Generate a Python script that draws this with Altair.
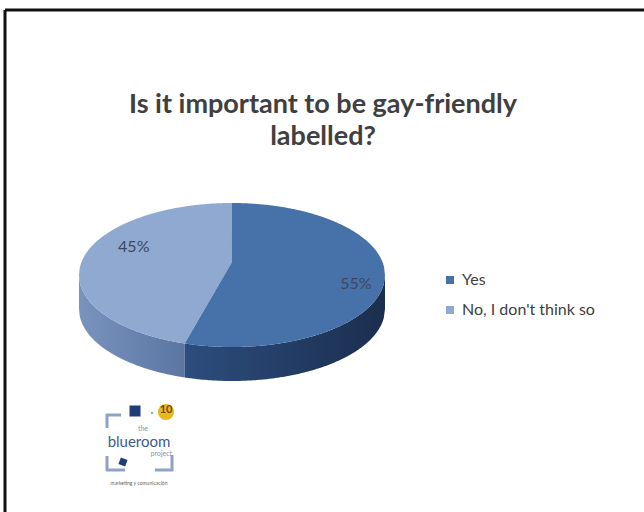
import altair as alt
import numpy as np
import pandas as pd

# ---------------- data ----------------
categories = ["Yes", "No, I don't think so"]
values = [55, 45]
pct_labels = ["55%", "45%"]
title_lines = ["Is it important to be gay-friendly", "labelled?"]

# ---------------- style / layout ----------------
W, H = 644, 512
CX, CY = 232.0, 275.0      # ellipse centre (pixels)
RX, RY = 153.0, 72.0       # ellipse radii
APEX = 13.0                # pie apex sits above ellipse centre (perspective)
DEPTH = 34.0               # thickness of the 3D side
top_colors = ["#4672a9", "#8fa9d1"]
label_r = [0.82, 0.65]
label_dy = [0.0, -21.0]
FONT = "Lato"

# ---------------- geometry from values ----------------
frac = values[0] / sum(values)
theta = 2 * np.pi * frac                  # clockwise from 12 o'clock
xP = RX * np.sin(theta)                   # boundary point on rim (relative x)
yP = CY - RY * np.cos(theta)              # absolute pixel y
ay = CY - APEX                            # apex y


def top_y(x):
    return CY - RY * np.sqrt(np.clip(1 - (x / RX) ** 2, 0, None))


def bot_y(x):
    return CY + RY * np.sqrt(np.clip(1 - (x / RX) ** 2, 0, None))


def line_y(x):
    return ay + (yP - ay) * (x / xP)


rows = []
n = 160
# sides
for part, xs in [("side_no", np.linspace(-RX, xP, n)), ("side_yes", np.linspace(xP, RX, n))]:
    for x in xs:
        rows.append(dict(part=part, category=None, x=CX + x, y=bot_y(x), y2=bot_y(x) + DEPTH))
# top "No" face
for x in np.linspace(-RX, xP, n):
    rows.append(dict(part="top", category=categories[1], x=CX + x, y=top_y(x), y2=bot_y(x)))
for x in np.linspace(xP, 0, 60)[1:]:
    rows.append(dict(part="top", category=categories[1], x=CX + x, y=top_y(x), y2=line_y(x)))
# top "Yes" face
for x in np.linspace(xP, -1e-3, 60):
    rows.append(dict(part="top", category=categories[0], x=CX + x, y=line_y(x), y2=bot_y(x)))
for x in np.linspace(0, RX, n):
    rows.append(dict(part="top", category=categories[0], x=CX + x, y=top_y(x), y2=bot_y(x)))
geo = pd.DataFrame(rows)

# percentage label positions (mid-angle of each slice)
starts = np.cumsum([0] + values[:-1]) / sum(values)
mids = (starts + np.array(values) / sum(values) / 2) * 2 * np.pi
lab = pd.DataFrame(dict(
    text=pct_labels,
    x=[CX + r * RX * np.sin(m) for r, m in zip(label_r, mids)],
    y=[CY - r * RY * np.cos(m) + d for r, m, d in zip(label_r, mids, label_dy)],
))
one = pd.DataFrame({"k": [0]})

xs_ = alt.Scale(domain=[0, W], range=[0, W], nice=False, zero=False)
ys_ = alt.Scale(domain=[0, H], range=[0, H], nice=False, zero=False)


def grad(c1, c2):
    return alt.Gradient(gradient="linear", x1=0, x2=1, y1=0, y2=0,
                        stops=[alt.GradientStop(color=c1, offset=0),
                               alt.GradientStop(color=c2, offset=1)])


base = alt.Chart(geo)
side_no = base.transform_filter(alt.datum.part == "side_no").mark_area(
    orient="vertical", color=grad("#7993bd", "#5b76a3")).encode(
    x=alt.X("x:Q", scale=xs_, axis=None), y=alt.Y("y:Q", scale=ys_, axis=None), y2="y2:Q")
side_yes = base.transform_filter(alt.datum.part == "side_yes").mark_area(
    orient="vertical", color=grad("#2d4d7e", "#1b2e4e")).encode(
    x=alt.X("x:Q", scale=xs_, axis=None), y=alt.Y("y:Q", scale=ys_, axis=None), y2="y2:Q")
top = base.transform_filter(alt.datum.part == "top").mark_area(orient="vertical").encode(
    x=alt.X("x:Q", scale=xs_, axis=None),
    y=alt.Y("y:Q", scale=ys_, axis=None), y2="y2:Q",
    color=alt.Color("category:N", scale=alt.Scale(domain=categories, range=top_colors),
                    legend=alt.Legend(title=None, orient="none", legendX=442, legendY=272,
                                      symbolType="square", symbolSize=64, symbolStrokeWidth=0,
                                      labelFont=FONT, labelFontSize=16, labelColor="#404040",
                                      rowPadding=14, labelOffset=4)),
    detail="category:N",
)

pct = alt.Chart(lab).mark_text(font=FONT, fontSize=16, color="#3d4860",
                               align="center", baseline="middle").encode(
    x=alt.X("x:Q", scale=xs_, axis=None), y=alt.Y("y:Q", scale=ys_, axis=None), text="text:N")

title = alt.Chart(one).mark_text(text=title_lines, font=FONT, fontSize=27, fontWeight="bold",
                                 color="#404040", align="center", baseline="alphabetic",
                                 lineHeight=32).encode(x=alt.value(323), y=alt.value(113))


def rule(x1, y1, x2, y2, color, w):
    return alt.Chart(one).mark_rule(color=color, strokeWidth=w).encode(
        x=alt.value(x1), y=alt.value(y1), x2=alt.value(x2), y2=alt.value(y2))


border = [rule(5, 10, W, 10, "#111111", 3), rule(5, 10, 5, H, "#111111", 3)]

LOGO_LIGHT = "#8ea2c2"
LOGO_DARK = "#1f3d78"
logo = [
    rule(107, 414, 107, 428, LOGO_LIGHT, 3), rule(106, 415, 121, 415, LOGO_LIGHT, 3),
    rule(107, 456, 107, 471, LOGO_LIGHT, 3), rule(106, 470, 125, 470, LOGO_LIGHT, 3),
    rule(172, 455, 172, 471, LOGO_LIGHT, 3), rule(155, 470, 173, 470, LOGO_LIGHT, 3),
    alt.Chart(one).mark_square(color=LOGO_DARK, size=121, opacity=1).encode(
        x=alt.value(135), y=alt.value(411)),
    alt.Chart(one).mark_square(color=LOGO_DARK, size=50, opacity=1, angle=20).encode(
        x=alt.value(123), y=alt.value(462)),
    alt.Chart(one).mark_circle(color="#9aa9c4", size=6, opacity=1).encode(
        x=alt.value(152), y=alt.value(413)),
    alt.Chart(one).mark_circle(color="#e9b81f", size=260, opacity=1).encode(
        x=alt.value(166), y=alt.value(412)),
    alt.Chart(one).mark_text(text="10", font=FONT, fontSize=11, fontWeight="bold",
                             color="#6b4a10", baseline="middle").encode(
        x=alt.value(166), y=alt.value(410)),
    alt.Chart(one).mark_text(text="the", font=FONT, fontSize=7, color="#7f93b5",
                             baseline="middle").encode(x=alt.value(143), y=alt.value(429)),
    alt.Chart(one).mark_text(text="blueroom", font=FONT, fontSize=15, color="#3a5b93",
                             baseline="middle").encode(x=alt.value(139), y=alt.value(442)),
    alt.Chart(one).mark_text(text="project", font=FONT, fontSize=7, color="#7f93b5",
                             align="right", baseline="middle").encode(x=alt.value(172), y=alt.value(454)),
    alt.Chart(one).mark_text(text="marketing y comunicación", font=FONT, fontSize=5, color="#666666",
                             baseline="middle").encode(x=alt.value(139), y=alt.value(483)),
]

chart = alt.layer(side_no, side_yes, top, pct, title, *border, *logo).properties(
    width=W, height=H, padding=0, autosize=alt.AutoSizeParams(type="none"),
    background="white",
).configure_view(stroke=None)

chart.save("out.html", embed_options={"renderer": "svg", "actions": False})
